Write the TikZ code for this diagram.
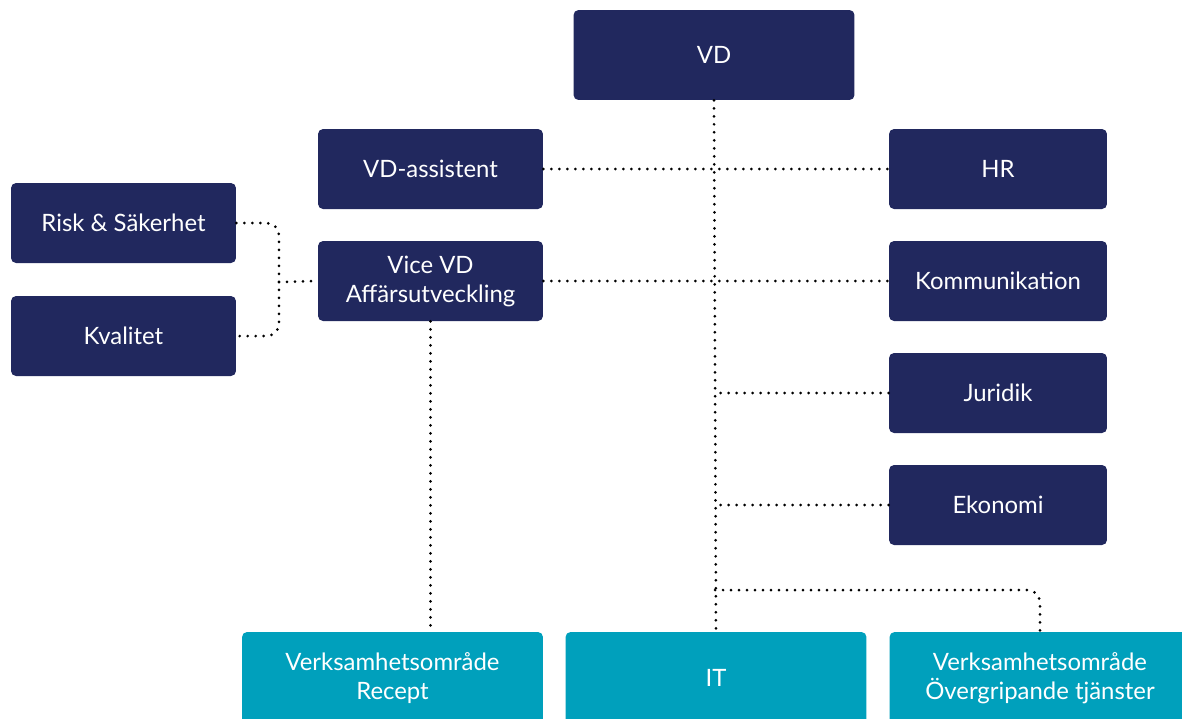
\documentclass[tikz,border=0pt]{standalone}
\usepackage{fontspec}
\setmainfont{Lato}
\usepackage{xcolor}
\definecolor{navyblue}{RGB}{33,40,94}
\definecolor{tealblue}{RGB}{0,160,188}

\begin{document}
\begin{tikzpicture}[x=0.02cm, y=-0.02cm,
    box/.style={rounded corners=0.1cm, text=white, align=center,
        font=\fontsize{13.6}{16.5}\selectfont, inner sep=0pt},
    navybox/.style={box, fill=navyblue, minimum width=4.5cm, minimum height=1.6cm},
    wideteal/.style={box, fill=tealblue, minimum width=6.02cm, minimum height=1.84cm},
    link/.style={line width=1.7pt, line cap=round, dash pattern=on 0pt off 0.16cm}]

    % Canvas
    \useasboundingbox (0,0) rectangle (1182,718);
    \clip (0,0) rectangle (1182,718);

    % Top
    \node[navybox, minimum width=5.62cm, minimum height=1.8cm] (vd) at (714,55) {VD};

    % Staff left
    \node[navybox] (vdass) at (430.5,169) {VD-assistent};
    \node[navybox] (vicevd) at (430.5,281) {Vice VD\\Affärsutveckling};
    \node[navybox] (risk) at (123.5,223) {Risk \& Säkerhet};
    \node[navybox] (kval) at (123.5,336) {Kvalitet};

    % Staff right
    \node[navybox, minimum width=4.36cm] (hr) at (998,169) {HR};
    \node[navybox, minimum width=4.36cm] (komm) at (998,281) {Kommunikation};
    \node[navybox, minimum width=4.36cm] (jur) at (998,393) {Juridik};
    \node[navybox, minimum width=4.36cm] (eko) at (998,505) {Ekonomi};

    % Business areas
    \node[wideteal] (recept) at (392.5,678) {Verksamhetsområde\\Recept};
    \node[wideteal] (it) at (716,678) {IT};
    \node[wideteal] (overg) at (1040,678) {Verksamhetsområde\\Övergripande tjänster};

    % Main line
    \draw[link] (vd.south) -- (it.north);

    % Horizontal links
    \draw[link] (vdass.east) -- (hr.west);
    \draw[link] (vicevd.east) -- (komm.west);
    \draw[link] (jur.west) -- (jur.west -| vd.south);
    \draw[link] (eko.west) -- (eko.west -| vd.south);

    % Branch to Övergripande tjänster
    \coordinate (split) at (715,590);
    \draw[link, rounded corners=0.25cm] (split) -| (overg.north);

    % Vice VD down to Recept
    \draw[link] (vicevd.south) -- (vicevd.south |- recept.north);

    % Risk and Kvalitet bracket
    \coordinate (join) at (279,282);
    \draw[link, rounded corners=0.25cm] (risk.east) -| (join) |- (kval.east);
    \draw[link] (join) -- (vicevd.west);
\end{tikzpicture}
\end{document}
